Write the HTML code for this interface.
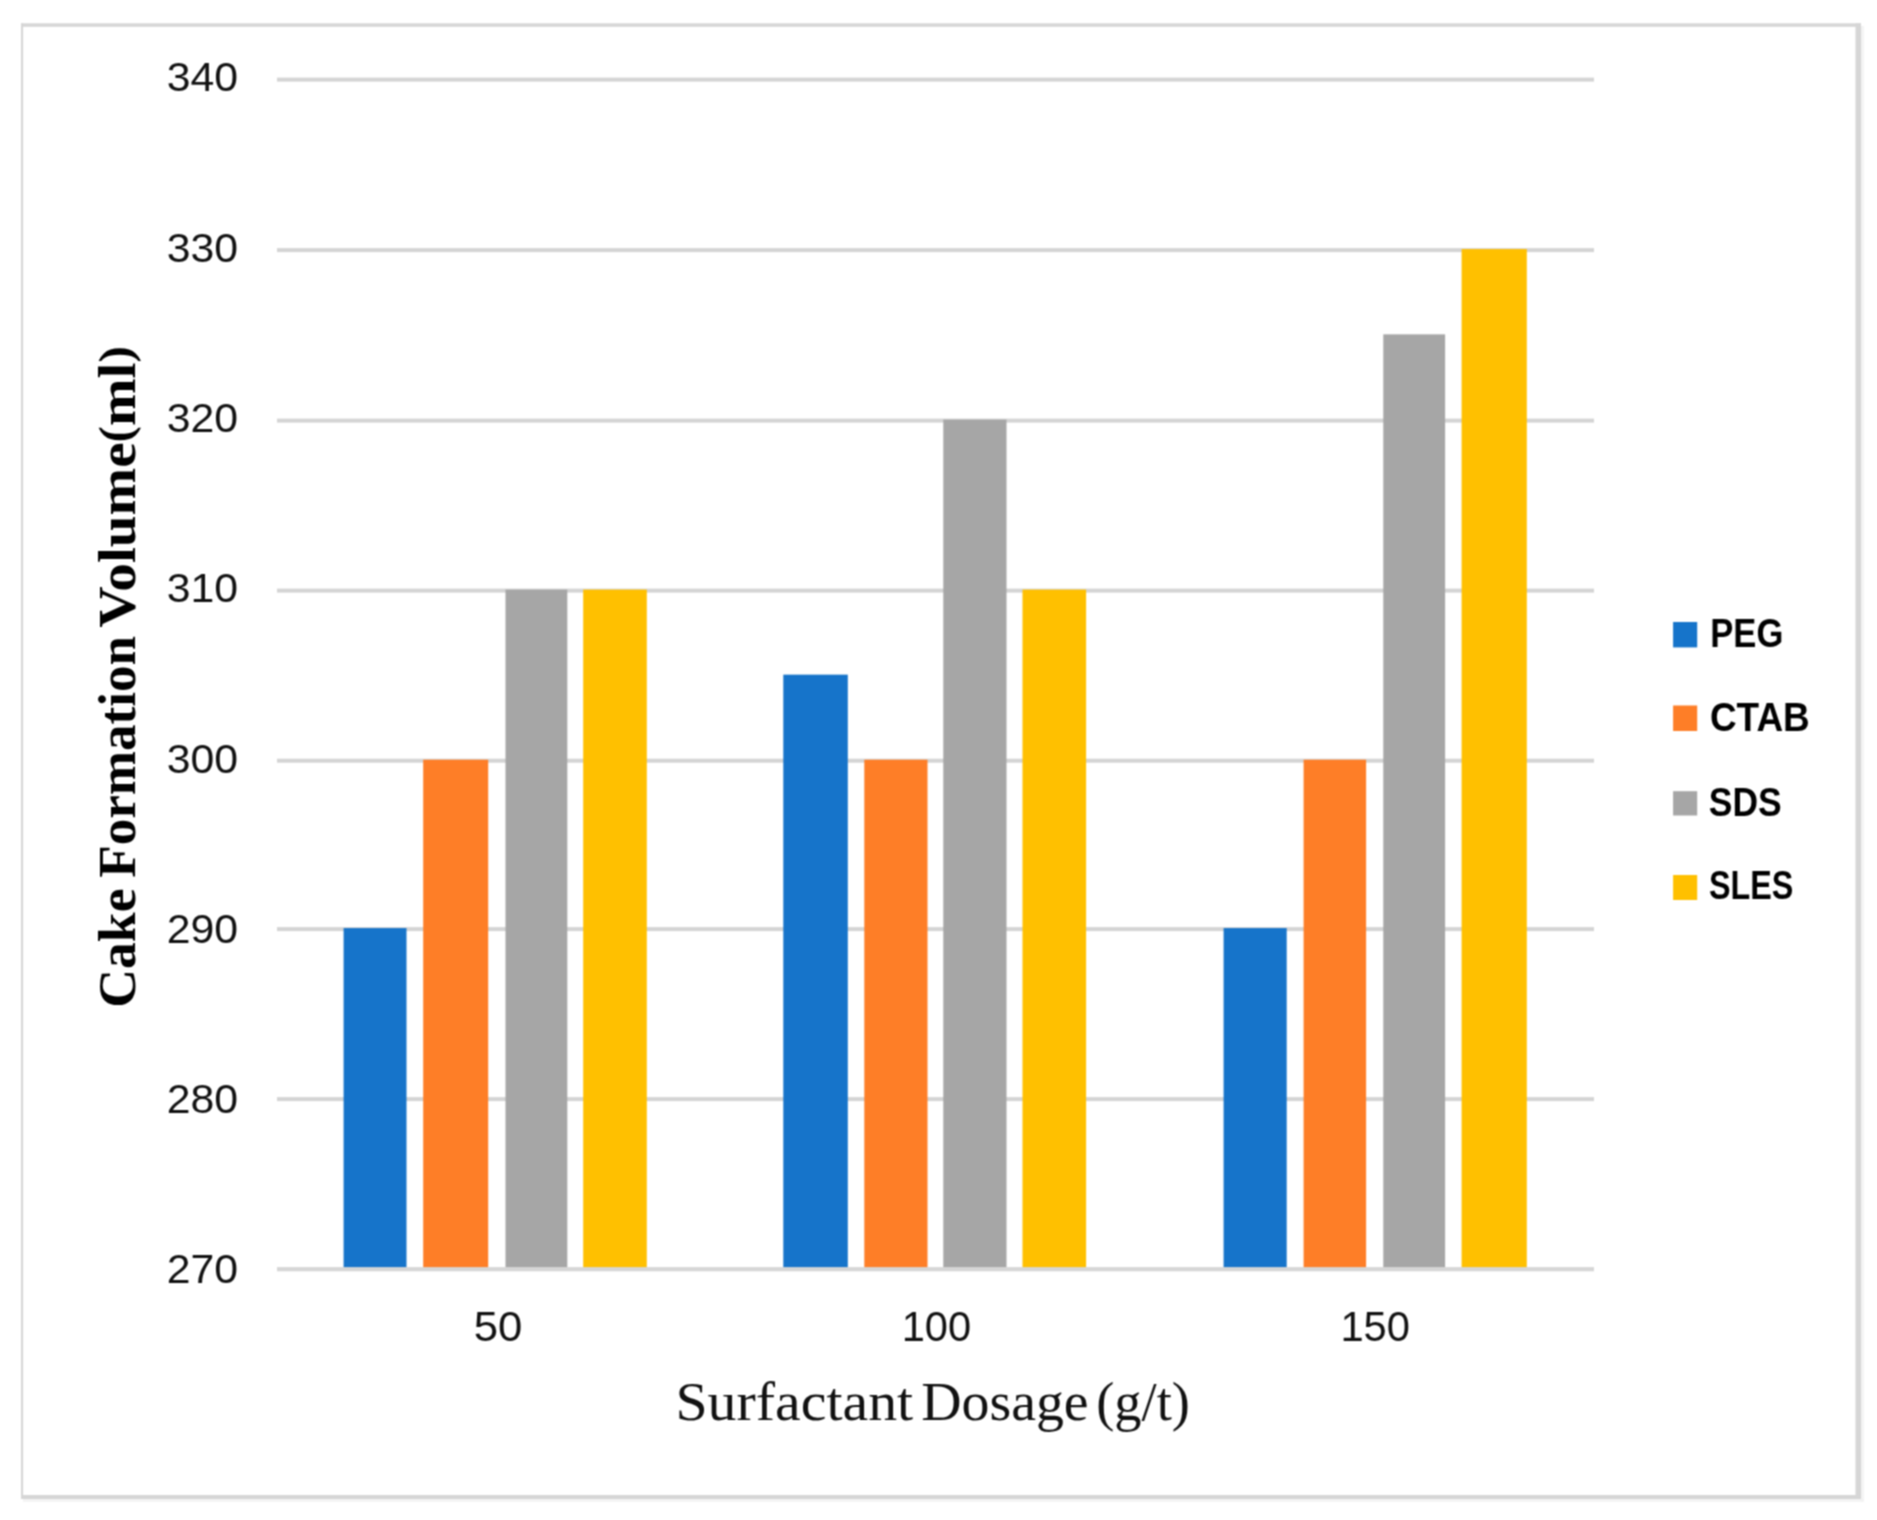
<!DOCTYPE html>
<html><head><meta charset="utf-8"><title>Cake Formation Volume chart</title>
<style>html,body{margin:0;padding:0;background:#fff;width:1877px;height:1520px;overflow:hidden}svg{display:block}</style>
</head><body>
<svg width="1877" height="1520" viewBox="0 0 1877 1520">
<defs><filter id="soft" x="0" y="0" width="1877" height="1520" filterUnits="userSpaceOnUse" color-interpolation-filters="sRGB"><feConvolveMatrix order="3" kernelMatrix="1 2 1 2 4 2 1 2 1" divisor="16" edgeMode="duplicate"/></filter></defs>
<g filter="url(#soft)">
<rect width="1877" height="1520" fill="#fff"/>
<g fill="#d6d6d6">
<rect x="21" y="23.3" width="1840" height="3.5"/>
<rect x="21" y="23.3" width="2.1" height="1475.7"/>
<rect x="1855.5" y="23.3" width="5.5" height="1475.7"/>
<rect x="21" y="1495" width="1840" height="4"/>
</g>
<g fill="#f3f3f3"><rect x="1861" y="26" width="2.8" height="1476"/><rect x="23" y="1499" width="1840.8" height="2.8"/></g>
<g fill="#d4d4d4">
<rect x="277" y="77.60" width="1317" height="4.0"/>
<rect x="277" y="248.10" width="1317" height="4.0"/>
<rect x="277" y="418.60" width="1317" height="4.0"/>
<rect x="277" y="588.60" width="1317" height="4.0"/>
<rect x="277" y="758.70" width="1317" height="4.0"/>
<rect x="277" y="927.10" width="1317" height="4.0"/>
<rect x="277" y="1097.10" width="1317" height="4.0"/>
</g>
<rect x="343.6" y="928.10" width="62.90" height="339.90" fill="#1674CA"/>
<rect x="423.2" y="759.70" width="65.00" height="508.30" fill="#FE7E27"/>
<rect x="505.5" y="589.60" width="61.80" height="678.40" fill="#A6A6A6"/>
<rect x="583.2" y="589.60" width="63.60" height="678.40" fill="#FFC000"/>
<rect x="783.3" y="674.65" width="64.50" height="593.35" fill="#1674CA"/>
<rect x="864.3" y="759.70" width="63.20" height="508.30" fill="#FE7E27"/>
<rect x="943.3" y="419.60" width="63.20" height="848.40" fill="#A6A6A6"/>
<rect x="1022.5" y="589.60" width="63.60" height="678.40" fill="#FFC000"/>
<rect x="1223.6" y="928.10" width="63.10" height="339.90" fill="#1674CA"/>
<rect x="1303.6" y="759.70" width="62.50" height="508.30" fill="#FE7E27"/>
<rect x="1383.3" y="334.35" width="61.80" height="933.65" fill="#A6A6A6"/>
<rect x="1461.6" y="249.10" width="65.20" height="1018.90" fill="#FFC000"/>
<rect x="277" y="1267.10" width="1317" height="4.2" fill="#d6d6d6"/>
<g font-family="Liberation Sans, Arial, sans-serif" fill="#111">
<text x="166.68" y="91.05" font-size="40" textLength="71.41" lengthAdjust="spacingAndGlyphs">340</text>
<text x="166.68" y="261.54" font-size="40" textLength="71.41" lengthAdjust="spacingAndGlyphs">330</text>
<text x="166.68" y="431.53" font-size="40" textLength="71.41" lengthAdjust="spacingAndGlyphs">320</text>
<text x="166.68" y="601.69" font-size="40" textLength="71.41" lengthAdjust="spacingAndGlyphs">310</text>
<text x="166.68" y="772.58" font-size="40" textLength="71.41" lengthAdjust="spacingAndGlyphs">300</text>
<text x="166.65" y="942.61" font-size="40" textLength="71.36" lengthAdjust="spacingAndGlyphs">290</text>
<text x="166.65" y="1112.77" font-size="40" textLength="71.36" lengthAdjust="spacingAndGlyphs">280</text>
<text x="166.65" y="1282.53" font-size="40" textLength="71.36" lengthAdjust="spacingAndGlyphs">270</text>
</g>
<g font-family="Liberation Sans, Arial, sans-serif" fill="#111">
<text x="473.66" y="1341.14" font-size="42" textLength="48.64" lengthAdjust="spacingAndGlyphs">50</text>
<text x="901.69" y="1340.67" font-size="42" textLength="69.46" lengthAdjust="spacingAndGlyphs">100</text>
<text x="1340.38" y="1340.67" font-size="42" textLength="69.63" lengthAdjust="spacingAndGlyphs">150</text>
</g>
<text x="675.40" y="1420.02" font-family="Liberation Serif, Times New Roman, serif" font-size="54" fill="#111" textLength="237.80" lengthAdjust="spacingAndGlyphs">Surfactant</text>
<text x="921.16" y="1420.02" font-family="Liberation Serif, Times New Roman, serif" font-size="54" fill="#111" textLength="167.48" lengthAdjust="spacingAndGlyphs">Dosage</text>
<text x="1096.26" y="1420.02" font-family="Liberation Serif, Times New Roman, serif" font-size="54" fill="#111" textLength="93.62" lengthAdjust="spacingAndGlyphs">(g/t)</text>
<text transform="translate(135.30,1007.77) rotate(-90)" x="0" y="0" font-family="Liberation Serif, Times New Roman, serif" font-weight="bold" font-size="53" fill="#000" textLength="119.31" lengthAdjust="spacingAndGlyphs">Cake</text>
<text transform="translate(135.30,877.81) rotate(-90)" x="0" y="0" font-family="Liberation Serif, Times New Roman, serif" font-weight="bold" font-size="53" fill="#000" textLength="241.93" lengthAdjust="spacingAndGlyphs">Formation</text>
<text transform="translate(135.30,627.67) rotate(-90)" x="0" y="0" font-family="Liberation Serif, Times New Roman, serif" font-weight="bold" font-size="53" fill="#000" textLength="281.45" lengthAdjust="spacingAndGlyphs">Volume<tspan font-size="45.5" dy="-3.9">(</tspan><tspan dy="3.9">ml</tspan><tspan font-size="45.5" dy="-3.9">)</tspan></text>
<rect x="1673.1" y="622.0" width="24.1" height="25.4" fill="#1674CA"/>
<rect x="1673.1" y="705.5" width="24.1" height="25.5" fill="#FE7E27"/>
<rect x="1673.1" y="791.2" width="24.1" height="24.3" fill="#A6A6A6"/>
<rect x="1673.1" y="875.0" width="24.1" height="25.0" fill="#FFC000"/>
<text x="1710.32" y="647.12" font-family="Liberation Sans, Arial, sans-serif" font-weight="bold" font-size="40" fill="#000" textLength="72.98" lengthAdjust="spacingAndGlyphs">PEG</text>
<text x="1709.91" y="730.96" font-family="Liberation Sans, Arial, sans-serif" font-weight="bold" font-size="40" fill="#000" textLength="99.86" lengthAdjust="spacingAndGlyphs">CTAB</text>
<text x="1708.84" y="815.50" font-family="Liberation Sans, Arial, sans-serif" font-weight="bold" font-size="40" fill="#000" textLength="72.89" lengthAdjust="spacingAndGlyphs">SDS</text>
<text x="1709.02" y="899.08" font-family="Liberation Sans, Arial, sans-serif" font-weight="bold" font-size="40" fill="#000" textLength="84.38" lengthAdjust="spacingAndGlyphs">SLES</text>
</g>
</svg>
</body></html>
